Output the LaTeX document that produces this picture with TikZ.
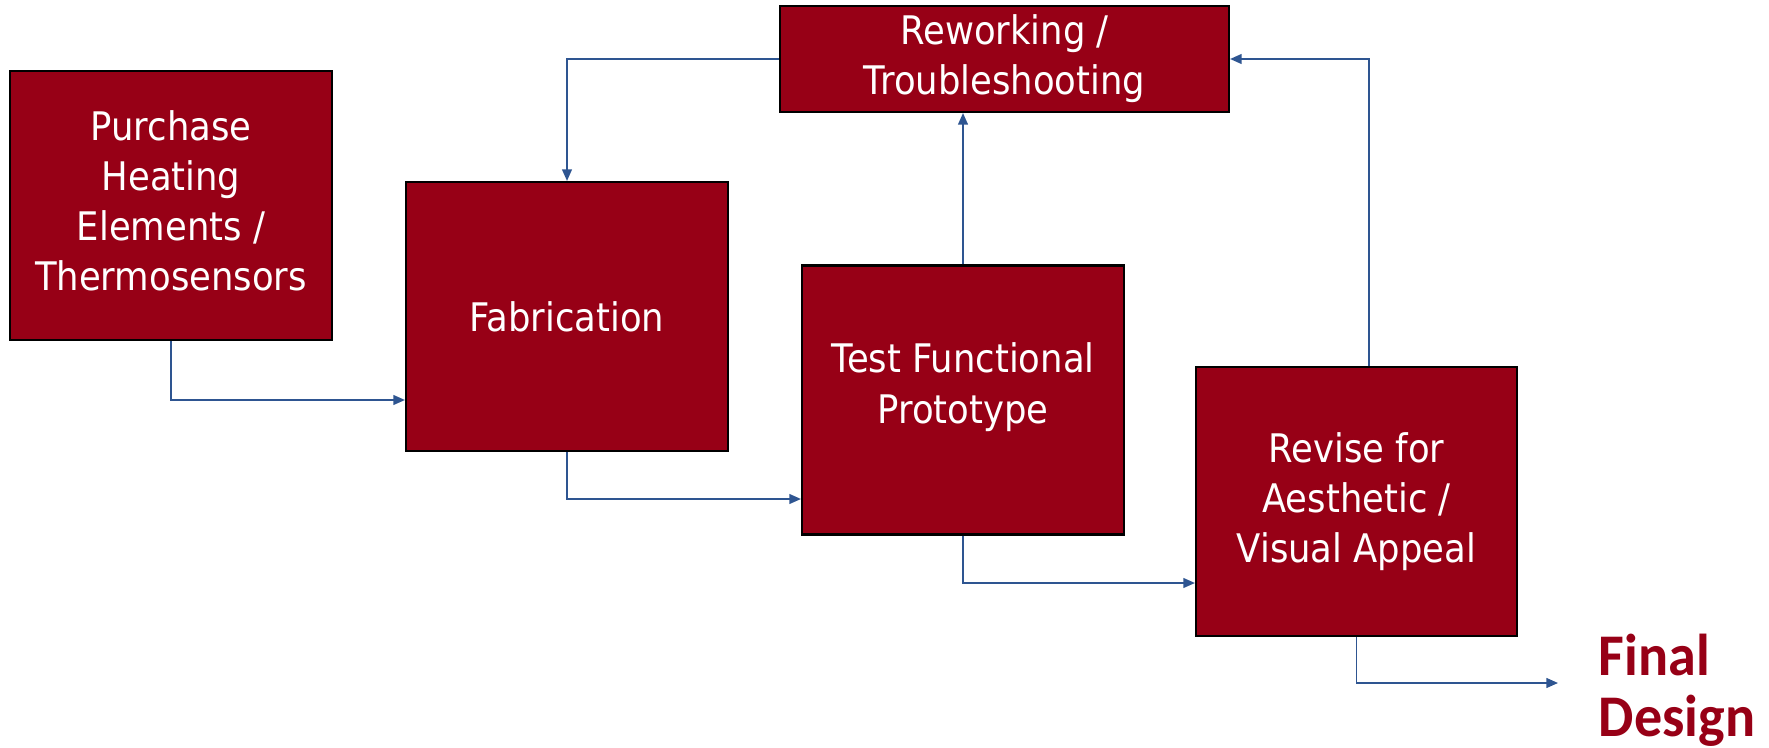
\documentclass[tikz,border=0pt]{standalone}
\usepackage{fontspec}
\setmainfont{DejaVu Sans}[FakeStretch=0.9]
\newfontfamily\finalfont{Carlito}[FakeStretch=0.95]
\usetikzlibrary{arrows.meta}
\definecolor{boxred}{HTML}{970016}
\definecolor{lineblue}{HTML}{2E5591}
\begin{document}
\begin{tikzpicture}[
    box/.style={draw=black, line width=0.6pt, fill=boxred, text=white, align=center, inner sep=0pt,
        minimum width=3.22cm, minimum height=2.69cm, font=\fontsize{11.2pt}{14.3pt}\selectfont},
    arrow/.style={-{Triangle[length=3.3pt, width=2.8pt]}, draw=lineblue, line width=0.45pt}
]
    \useasboundingbox (0,0) rectangle (17.69,-7.48);

    % Process steps
    \node[box, text depth=0.1cm] (p) at (1.71,-2.055) {Purchase\\Heating\\Elements /\\Thermosensors};
    \node[box] (f) at (5.67,-3.165) {Fabrication};
    \node[box, minimum width=4.49cm, minimum height=1.06cm] (r) at (10.045,-0.59) {Reworking /\\Troubleshooting};
    \node[box, minimum width=3.22cm, text depth=0.34cm] (t) at (9.63,-4.0) {Test Functional\\Prototype};
    \node[box, minimum width=3.21cm] (v) at (13.565,-5.015) {Revise for\\Aesthetic /\\Visual Appeal};

    % Outcome
    \node[anchor=north west, inner sep=0pt, align=left, text=boxred,
        font=\finalfont\bfseries\fontsize{16.8pt}{17.6pt}\selectfont] (d) at (15.98,-6.33) {Final\\Design};
    \coordinate (e) at (15.58,-6.83);

    % Arrows
    \draw[arrow] (p.south) |- (f.west |- 0,-4.0);
    \draw[arrow] (f.south) |- (t.west |- 0,-4.99);
    \draw[arrow] (t.south) |- (v.west |- 0,-5.83);
    \draw[arrow] (t.north) -- (t.north |- r.south);
    \draw[arrow] ([xshift=0.125cm]v.north) |- (r.east);
    \draw[arrow] (r.west) -| (f.north);
    \draw[arrow] (v.south) |- (e);
\end{tikzpicture}
\end{document}
